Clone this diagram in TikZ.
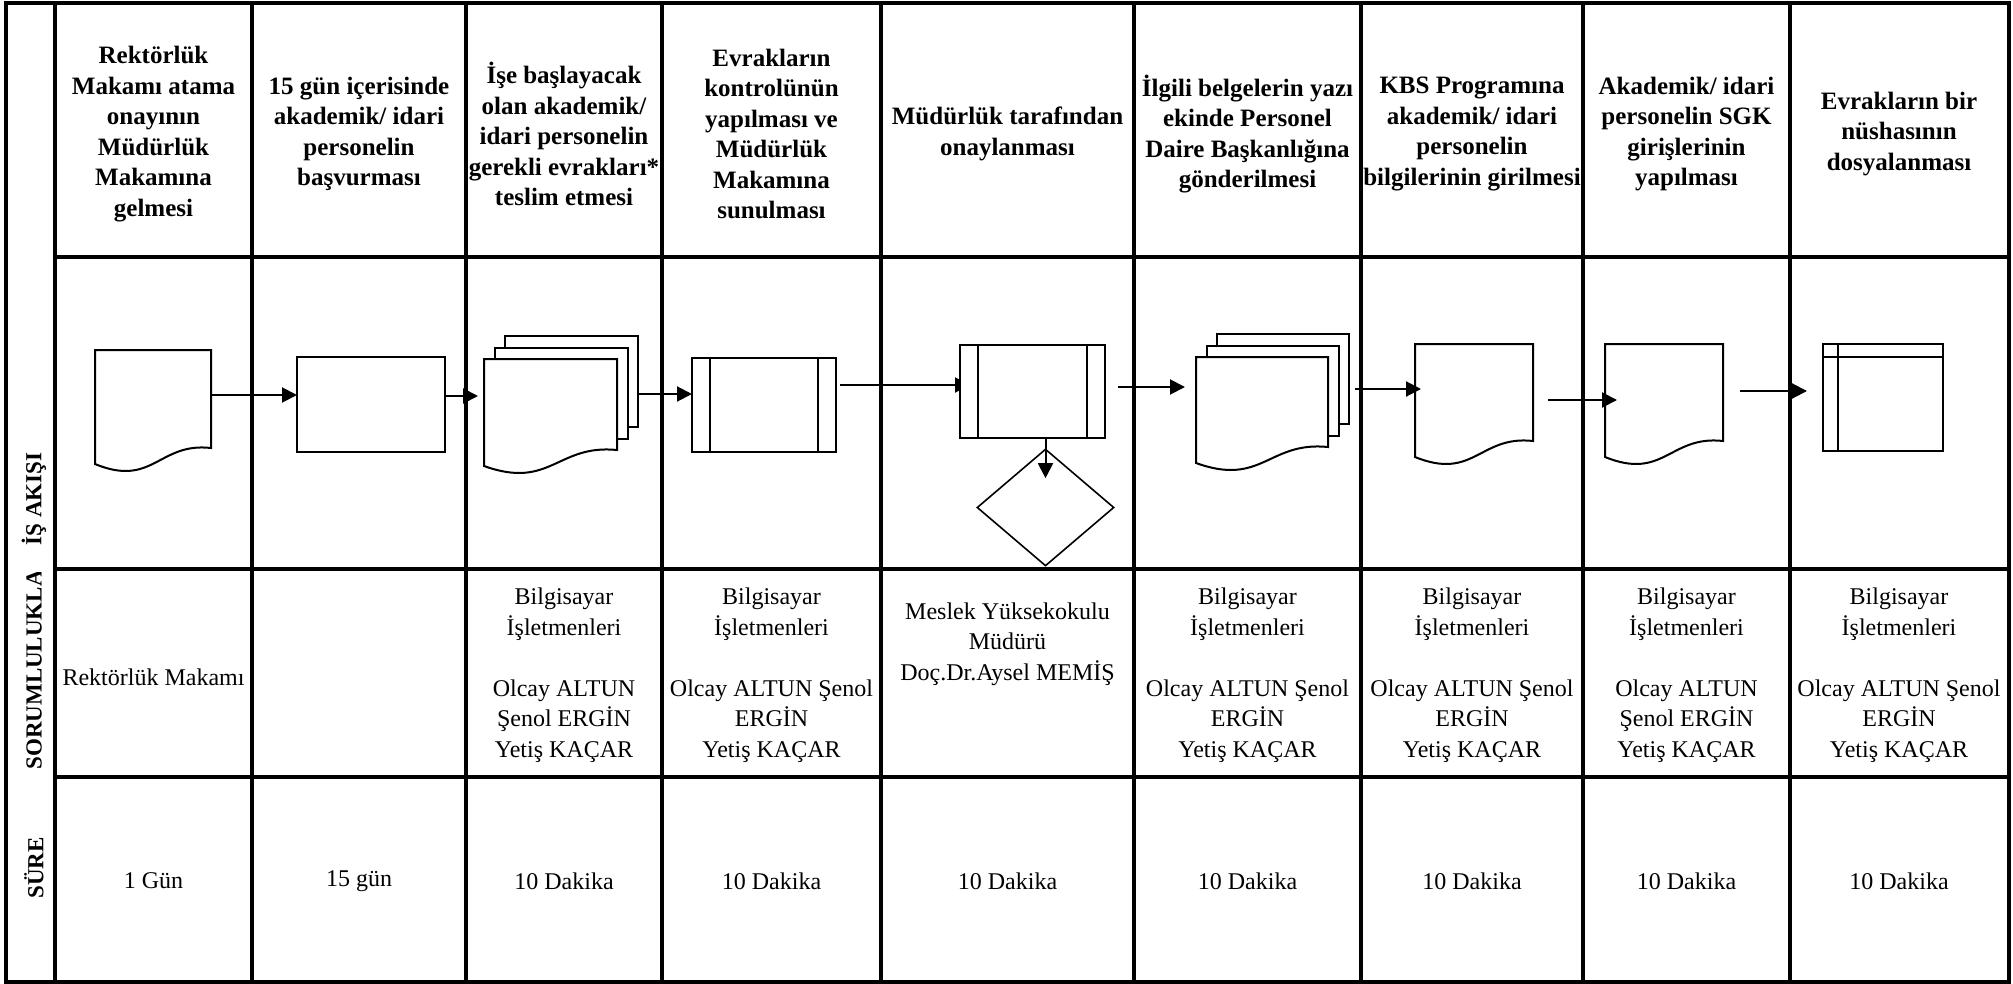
\documentclass[tikz,border=0pt]{standalone}
\usepackage{fontspec}
\setmainfont{Liberation Serif}
\usetikzlibrary{arrows.meta,calc,fit,shapes.geometric}
\tikzset{
  grid/.style={line width=2.2pt},
  shp/.style={draw, line width=1pt, fill=white},
  innerline/.style={line width=0.8pt},
  arr/.style={line width=1pt, -{Triangle[length=7.5pt,width=7.5pt]}},
  hdr/.style={font=\bfseries\fontsize{12.5}{15.25}\selectfont, align=center, inner sep=0pt},
  txt/.style={font=\fontsize{12}{15.25}\selectfont, align=center, inner sep=0pt},
  lbl/.style={font=\bfseries\fontsize{11.5}{14}\selectfont, rotate=90, inner sep=0pt},
  box/.style={inner sep=0pt, outer sep=0pt},
}
% document shape: name, left, top, right, bottom (right side)
\newcommand\docshape[5]{%
  \node[box, fit={(#2,#3) (#4,#5)}] (#1) {};
  \draw[shp] (#4,#5) -- (#4,#3) -- (#2,#3) -- ({#2},{#5+16})
    .. controls ({#2+0.5*(#4-#2)},{#5+40}) and ({#2+0.55*(#4-#2)},{#5-6}) .. (#4,#5) -- cycle;}
% multi document shape
\newcommand\multidoc[5]{%
  \node[box, fit={({#2},{#3-23}) ({#4+21},{#5+16})}] (#1) {};
  \draw[shp] ({#2+21},{#3-23}) rectangle ({#4+21},{#5-23});
  \draw[shp] ({#2+10.5},{#3-11.5}) rectangle ({#4+10.5},{#5-11.5});
  \draw[shp] (#4,#5) -- (#4,#3) -- (#2,#3) -- ({#2},{#5+16})
    .. controls ({#2+0.5*(#4-#2)},{#5+40}) and ({#2+0.55*(#4-#2)},{#5-6}) .. (#4,#5) -- cycle;}
\begin{document}
\begin{tikzpicture}[x=0.5pt,y=-0.5pt]
\useasboundingbox (0,0) rectangle (2013,984);
\fill[white] (0,0) rectangle (2013,984);
% grid
\draw[grid] (6,3) rectangle (2009,982);
\draw[grid] (55,3) -- (55,982);
\foreach \x in {252,466,662,881,1134,1361,1583,1790} \draw[grid] (\x,3) -- (\x,982);
\foreach \y in {257,569,777} \draw[grid] (55,\y) -- (2009,\y);

% row labels
\node[lbl] (lb1) at (34,499) {İŞ AKIŞI};
\begin{scope}
  \clip (8,572) rectangle (53,775);
  \node[lbl, anchor=west] (lb2) at (34,770) {SORUMLULUKLAR};
\end{scope}
\node[lbl] (lb3) at (34,868) {SÜRE};

% header
\node[hdr] (hd1) at (153.5,134) {Rektörlük\\Makamı atama\\onayının\\Müdürlük\\Makamına\\gelmesi};
\node[hdr] (hd2) at (359,134) {15 gün içerisinde\\akademik/ idari\\personelin\\başvurması};
\node[hdr] (hd3) at (564,134) {İşe başlayacak\\olan akademik/\\idari personelin\\gerekli evrakları*\\teslim etmesi};
\node[hdr] (hd4) at (771.5,134) {Evrakların\\kontrolünün\\yapılması ve\\Müdürlük\\Makamına\\sunulması};
\node[hdr] (hd5) at (1007.5,134) {Müdürlük tarafından\\onaylanması};
\node[hdr] (hd6) at (1247.5,134) {İlgili belgelerin yazı\\ekinde Personel\\Daire Başkanlığına\\gönderilmesi};
\node[hdr] (hd7) at (1472,134) {KBS Programına\\akademik/ idari\\personelin\\bilgilerinin girilmesi};
\node[hdr] (hd8) at (1686.5,134) {Akademik/ idari\\personelin SGK\\girişlerinin\\yapılması};
\node[hdr] (hd9) at (1899,134) {Evrakların bir\\nüshasının\\dosyalanması};

% responsibilities
\node[txt] (rs1) at (153.5,677) {Rektörlük Makamı};
\node[txt] (rs3) at (564,675) {Bilgisayar\\İşletmenleri\\[15.25pt]Olcay ALTUN\\Şenol ERGİN\\Yetiş KAÇAR};
\node[txt] (rs4) at (771.5,675) {Bilgisayar\\İşletmenleri\\[15.25pt]Olcay ALTUN Şenol\\ERGİN\\Yetiş KAÇAR};
\node[txt] (rs5) at (1007.5,644) {Meslek Yüksekokulu\\Müdürü\\Doç.Dr.Aysel MEMİŞ};
\node[txt] (rs6) at (1247.5,675) {Bilgisayar\\İşletmenleri\\[15.25pt]Olcay ALTUN Şenol\\ERGİN\\Yetiş KAÇAR};
\node[txt] (rs7) at (1472,675) {Bilgisayar\\İşletmenleri\\[15.25pt]Olcay ALTUN Şenol\\ERGİN\\Yetiş KAÇAR};
\node[txt] (rs8) at (1686.5,675) {Bilgisayar\\İşletmenleri\\[15.25pt]Olcay ALTUN\\Şenol ERGİN\\Yetiş KAÇAR};
\node[txt] (rs9) at (1899,675) {Bilgisayar\\İşletmenleri\\[15.25pt]Olcay ALTUN Şenol\\ERGİN\\Yetiş KAÇAR};

% durations
\node[txt] (sr1) at (153.5,881) {1 Gün};
\node[txt] (sr2) at (359,881) {15 gün};
\node[txt] (sr3) at (564,881) {10 Dakika};
\node[txt] (sr4) at (771.5,881) {10 Dakika};
\node[txt] (sr5) at (1007.5,881) {10 Dakika};
\node[txt] (sr6) at (1247.5,881) {10 Dakika};
\node[txt] (sr7) at (1472,881) {10 Dakika};
\node[txt] (sr8) at (1686.5,881) {10 Dakika};
\node[txt] (sr9) at (1899,881) {10 Dakika};

% flow shapes
\docshape{d1}{95}{350}{211}{448}
\node[box, shp, fit={(297,357) (445,452)}] (r2) {};
\multidoc{m3}{484}{359}{617}{450}
\node[box, fit={(692,358) (836,452)}] (r4) {};
\draw[shp] (r4.north west) rectangle (r4.south east);
\draw[innerline] ($(r4.north west)+(18,0)$) -- ($(r4.south west)+(18,0)$);
\draw[innerline] ($(r4.north east)+(-18,0)$) -- ($(r4.south east)+(-18,0)$);
\node[box, fit={(960,345) (1105,438)}] (r5) {};
\draw[arr] ($(r4.east |- 0,385)+(4,0)$) -- ($(r5.west |- 0,385)+(10,0)$);
\draw[shp] (r5.north west) rectangle (r5.south east);
\draw[innerline] ($(r5.north west)+(18,0)$) -- ($(r5.south west)+(18,0)$);
\draw[innerline] ($(r5.north east)+(-18,0)$) -- ($(r5.south east)+(-18,0)$);
\node[draw, diamond, line width=0.8pt, fill=white, minimum width=68.5pt, minimum height=58.5pt, inner sep=0pt] (dm) at (1045.5,507.5) {};
\multidoc{m6}{1196}{357}{1328}{447}
\docshape{d7}{1415}{344}{1533}{441}
\docshape{d8}{1605}{344}{1723}{441}
\node[box, fit={(1823,344) (1943,451)}] (st) {};
\draw[shp] (st.north west) rectangle (st.south east);
\draw[innerline] ($(st.north west)+(15,0)$) -- ($(st.south west)+(15,0)$);
\draw[innerline] ($(st.north west)+(0,13)$) -- ($(st.north east)+(0,13)$);

% connectors
\draw[arr] (d1.east |- 0,395) -- (r2.west |- 0,395);
\draw[arr] (r2.east |- 0,396) -- ($(m3.west |- 0,396)+(-6,0)$);
\draw[arr] (m3.east |- 0,394) -- (r4.west |- 0,394);
\draw[arr] (r5.south -| dm.north) -- ($(dm.north)+(0,30)$);
\draw[arr] ($(r5.east |- 0,387)+(13,0)$) -- ($(m6.west |- 0,387)+(-11,0)$);
\draw[arr] ($(m6.east |- 0,389)+(6,0)$) -- ($(d7.west |- 0,389)+(6,0)$);
\draw[arr] ($(d7.east |- 0,400)+(15,0)$) -- ($(d8.west |- 0,400)+(12,0)$);
\draw[arr] ($(d8.east |- 0,391)+(17,0)$) -- ($(st.west |- 0,391)+(-16,0)$);
\end{tikzpicture}
\end{document}
